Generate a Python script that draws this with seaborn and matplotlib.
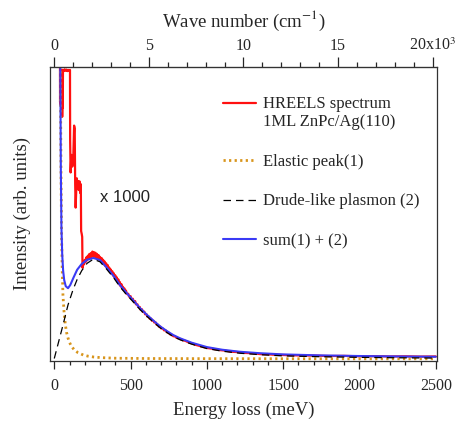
import numpy as np
import pandas as pd
import matplotlib
matplotlib.use("Agg")
import matplotlib.pyplot as plt
from matplotlib.ticker import MultipleLocator
from matplotlib.legend_handler import HandlerLine2D
import seaborn as sns

# ---------------- data ----------------
# HREELS spectrum (x 1000), energy loss in meV, intensity in arb. units
red_e = [36, 37, 38, 39, 40, 41, 42, 43, 44, 45, 46, 47, 48, 49, 50, 51, 52, 53, 54, 55, 56, 57,
         62, 68, 74, 80, 86, 92, 98, 103, 104, 107, 112, 118, 124, 130, 134, 137, 140, 144,
         148, 152, 156, 160, 165, 170, 174, 176, 180, 183, 185,
         190, 195, 200, 205, 210, 215, 220, 225, 230, 235, 240, 245, 250, 255, 260, 265,
         270, 275, 280, 285, 290, 295, 300, 305, 310, 315, 320, 325, 330, 335, 340, 345,
         350, 355, 360, 365, 370, 375, 380, 385, 390, 395, 400, 405, 410, 415, 420, 425,
         430, 435, 440, 445, 450, 455, 460, 465, 470, 475, 485, 490, 500, 505, 515, 520,
         530, 535, 545, 550, 560, 565, 575, 580, 590, 595, 605, 610, 620, 625, 635, 640,
         650, 655, 665, 670, 680, 685, 695, 700, 710, 720, 730, 740, 750, 760, 770, 780,
         790, 800, 820, 840, 860, 880, 900, 930, 960, 1000, 1040, 1080, 1120, 1160, 1200,
         1250, 1300, 1350, 1400, 1450, 1500, 1600, 1700, 1800, 1900, 2000, 2100, 2200,
         2300, 2400, 2500]
red_i = [130, 99, 88, 99, 90, 99, 87, 99, 89, 99, 86, 98, 84, 99, 85, 98, 83, 99, 86, 99, 88, 99,
         98.6, 99.2, 98.7, 99.1, 98.6, 99.0, 98.7, 99.0, 75, 64, 70, 66, 68, 80, 79, 60, 52, 58,
         62, 59, 61, 58, 61, 57, 60, 44, 43, 42, 31.5,
         33.5, 32.6, 34.2, 33.4, 35.0, 34.0, 35.6, 34.5, 36.2, 35.0, 36.5, 35.2, 37.0, 35.4, 36.8, 35.2,
         36.6, 35.0, 36.2, 34.6, 35.8, 34.4, 35.2, 33.8, 34.8, 33.2, 34.2, 32.6, 33.6, 32.0, 33.0, 31.4,
         32.4, 30.7, 31.6, 30.0, 30.9, 29.4, 30.3, 28.8, 29.6, 28.1, 28.9, 27.3, 28.2, 26.6, 27.5, 25.8,
         26.6, 25.1, 25.9, 24.4, 25.0, 23.8, 24.4, 23.1, 23.7, 22.5, 22.6, 21.6, 21.8, 20.8, 20.9, 19.9,
         20.1, 19.0, 19.0, 18.1, 18.1, 17.2, 17.3, 16.4, 16.5, 15.6, 15.6, 14.8, 14.8, 14.1, 14.1, 13.4,
         13.4, 12.8, 12.8, 12.1, 12.0, 11.4, 11.4, 10.8, 10.8, 10.1, 10.1, 9.4, 9.3, 8.7, 8.6, 8.1,
         8.1, 7.6, 7.3, 6.8, 6.5, 6.0, 5.7, 5.1, 4.7, 4.1, 3.8, 3.4, 3.2, 2.8, 2.7,
         2.4, 2.3, 2.0, 1.95, 1.75, 1.7, 1.55, 1.5, 1.35, 1.4, 1.25, 1.3, 1.2,
         1.25, 1.15, 1.2]

# Elastic peak (1)
el_e = [36, 40, 44, 48, 52, 57, 64, 72, 80, 90, 100, 111, 130, 155, 190, 221, 260, 308,
        400, 600, 1000, 1500, 2000, 2500]
el_i = [130, 100, 65, 42, 31, 22, 16.5, 12.3, 9.5, 7.5, 6.0, 4.8, 3.5, 2.5, 1.7, 1.3, 1.0, 0.8,
        0.6, 0.5, 0.45, 0.42, 0.4, 0.4]

# Drude-like plasmon (2)
dr_e = [0, 20, 40, 60, 90, 123, 150, 180, 215, 256, 300, 343, 390, 430, 475, 518, 560, 605,
        650, 693, 740, 780, 824, 900, 1000, 1100, 1217, 1350, 1500, 1750, 2000, 2250, 2500]
dr_i = [0.5, 4.5, 8.5, 12.5, 18.8, 24.0, 27.5, 30.5, 33.0, 34.4, 33.5, 31.0, 28.0, 25.0, 22.2,
        19.8, 17.3, 15.0, 12.9, 11.0, 9.3, 8.0, 6.9, 5.4, 3.9, 3.0, 2.3, 1.8, 1.4, 1.1, 0.9,
        0.75, 0.65]

# sum (1) + (2)
sm_e = [36, 40, 43, 47, 52, 58, 65, 75, 90, 105, 125, 150, 180, 215, 256, 300, 343, 390,
        430, 475, 518, 560, 605, 650, 693, 740, 780, 824, 900, 1000, 1100, 1217, 1350,
        1500, 1750, 2000, 2250, 2500]
sm_i = [130, 95, 65, 45, 36, 30.5, 27.3, 25.2, 24.5, 25.6, 28.0, 30.8, 32.8, 34.2, 34.8, 34.1,
        31.6, 28.6, 25.6, 22.8, 20.3, 17.8, 15.5, 13.4, 11.5, 9.8, 8.5, 7.4, 5.9, 4.4, 3.5,
        2.8, 2.3, 1.9, 1.55, 1.35, 1.2, 1.1]

x_major = [0, 500, 1000, 1500, 2000, 2500]
top_ticks = [0, 5000, 10000, 15000, 20000]
top_labels = ["0", "5", "10", "15", "20x10$^{3}$"]
MEV_TO_CM = 8.0655

labels = ["HREELS spectrum\n1ML ZnPc/Ag(110)", "Elastic peak(1)",
          "Drude-like plasmon (2)", "sum(1) + (2)"]

# ---------------- style ----------------
sns.set_style("ticks")
plt.rcParams["font.family"] = ["Liberation Serif", "DejaVu Serif"]
plt.rcParams["mathtext.fontset"] = "stix"

fig = plt.figure(figsize=(4.55, 4.28), dpi=100)
ax = fig.add_axes([50 / 455, 1 - 361 / 428, 387 / 455, 294 / 428])

df_red = pd.DataFrame({"E": red_e, "I": red_i})
df_el = pd.DataFrame({"E": el_e, "I": el_i})
df_dr = pd.DataFrame({"E": dr_e, "I": dr_i})
df_sm = pd.DataFrame({"E": sm_e, "I": sm_i})

sns.lineplot(data=df_red, x="E", y="I", ax=ax, color="#FF1010", lw=1.6,
             estimator=None, sort=False, label=labels[0])
sns.lineplot(data=df_el, x="E", y="I", ax=ax, color="#D8951C", lw=2.0,
             estimator=None, sort=False, label=labels[1], linestyle=(0, (0.8, 1.2)))
sns.lineplot(data=df_sm, x="E", y="I", ax=ax, color="#3A3AF5", lw=1.5,
             estimator=None, sort=False, label=labels[3])
sns.lineplot(data=df_dr, x="E", y="I", ax=ax, color="black", lw=0.9,
             estimator=None, sort=False, label=labels[2], linestyle=(0, (6, 4)))

ax.set_xlim(-28, 2508)
ax.set_ylim(-0.35, 100)
ax.set_xticks(x_major)
ax.xaxis.set_minor_locator(MultipleLocator(100))
ax.set_yticks([])
ax.tick_params(axis="x", which="major", direction="out", length=6, width=0.9,
               labelsize=11.5, pad=6, top=False)
ax.tick_params(axis="x", which="minor", direction="out", length=3, width=0.9, top=False)
for s in ax.spines.values():
    s.set_visible(True)
    s.set_linewidth(0.9)
    s.set_color("#333333")

ax.set_xlabel("Energy loss (meV)", fontsize=13.5, labelpad=6)
ax.set_ylabel("Intensity (arb. units)", fontsize=13.5, labelpad=14)

secax = ax.secondary_xaxis("top", functions=(lambda e: e * MEV_TO_CM,
                                             lambda w: w / MEV_TO_CM))
secax.set_xticks(top_ticks)
secax.set_xticklabels(top_labels)
secax.xaxis.set_minor_locator(MultipleLocator(1000))
secax.tick_params(axis="x", which="major", direction="out", length=7, width=0.9,
                  labelsize=11.5, pad=2)
secax.tick_params(axis="x", which="minor", direction="out", length=3.5, width=0.9)
secax.set_xlabel("Wave number (cm$^{-1}$)", fontsize=13.5, labelpad=8)

ax.text(0.129, 0.54, "x 1000", transform=ax.transAxes, fontsize=12, va="baseline",
        family=["Liberation Sans", "DejaVu Sans"], color="#222222")


class TopLineHandler(HandlerLine2D):
    """Put the legend line at the level of the first text line."""
    def create_artists(self, legend, orig_handle, xdescent, ydescent, width,
                       height, fontsize, trans):
        arts = super().create_artists(legend, orig_handle, xdescent, ydescent,
                                      width, height, fontsize, trans)
        for a in arts:
            yd = a.get_ydata()
            a.set_ydata([y + 0.62 * fontsize for y in yd])
        return arts


handles, labs = ax.get_legend_handles_labels()
order = [labs.index(l) for l in labels]
hs = [handles[i] for i in order]
leg = ax.legend(hs, [labs[i] for i in order],
                loc="upper left", bbox_to_anchor=(0.43, 0.925), frameon=False,
                fontsize=12, handlelength=1.95, handletextpad=0.45,
                labelspacing=1.42, borderaxespad=0,
                handler_map={hs[0]: TopLineHandler()})

fig.savefig("out.png", dpi=100)
